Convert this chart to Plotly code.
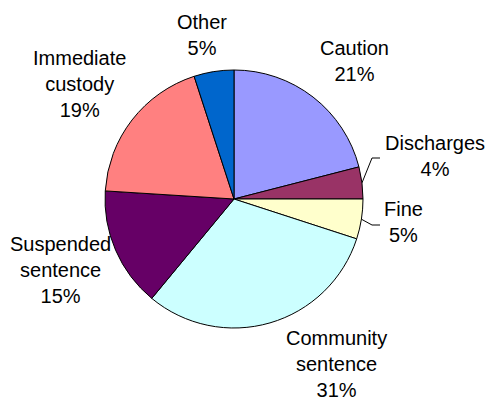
import math
import plotly.graph_objects as go

# Sentencing outcomes, share of total (%)
categories = ["Caution", "Discharges", "Fine", "Community sentence",
              "Suspended sentence", "Immediate custody", "Other"]
label_text = ["Caution", "Discharges", "Fine", "Community<br>sentence",
              "Suspended<br>sentence", "Immediate<br>custody", "Other"]
shares = [21, 4, 5, 31, 15, 19, 5]
colors = ["#9999FF", "#993366", "#FFFFCC", "#CCFFFF",
          "#660066", "#FF8080", "#0066CC"]

W, H = 487, 398
CX, CY, R = 234, 199, 129  # pie centre and radius in pixels

# label block centres (pixels, y downward)
label_pos = [(354, 61), (435, 156), (403, 222), (336, 364),
             (60, 270), (79, 84), (202, 35)]
# categories that get a leader line, with the elbow/end offsets
leaders = {"Discharges": ((372, 158), (380, 158)),
           "Fine": ((372, 225), (380, 225))}

FONT = "Liberation Sans, Arial, sans-serif"

fig = go.Figure()
fig.add_trace(go.Pie(
    labels=categories, values=shares, sort=False, direction="clockwise",
    rotation=0, textinfo="none", hoverinfo="label+percent",
    marker=dict(colors=colors, line=dict(color="black", width=1)),
    domain=dict(x=[(CX - R) / W, (CX + R) / W],
                y=[(H - CY - R) / H, (H - CY + R) / H]),
    showlegend=False,
))

total = sum(shares)
cum = 0
annotations = []
shapes = []
for name, txt, v, (lx, ly) in zip(categories, label_text, shares, label_pos):
    mid = (cum + v / 2) / total * 2 * math.pi
    cum += v
    pct = round(v / total * 100)
    annotations.append(dict(
        x=lx, y=ly, xref="x", yref="y", text=f"{txt}<br>{pct}%",
        showarrow=False, align="center", xanchor="center", yanchor="middle",
        font=dict(family=FONT, size=20, color="black"),
    ))
    if name in leaders:
        ex, ey = CX + R * math.sin(mid), CY - R * math.cos(mid)
        (bx, by), (tx, ty) = leaders[name]
        path = f"M {ex:.1f} {ey:.1f} L {bx} {by} L {tx} {ty}"
        shapes.append(dict(type="path", path=path, xref="x", yref="y",
                           line=dict(color="black", width=1)))

fig.update_layout(
    width=W, height=H, margin=dict(l=0, r=0, t=0, b=0),
    paper_bgcolor="white", plot_bgcolor="rgba(0,0,0,0)",
    xaxis=dict(range=[0, W], visible=False, fixedrange=True),
    yaxis=dict(range=[H, 0], visible=False, fixedrange=True),
    annotations=annotations, shapes=shapes,
)

fig.write_html("out.html")
